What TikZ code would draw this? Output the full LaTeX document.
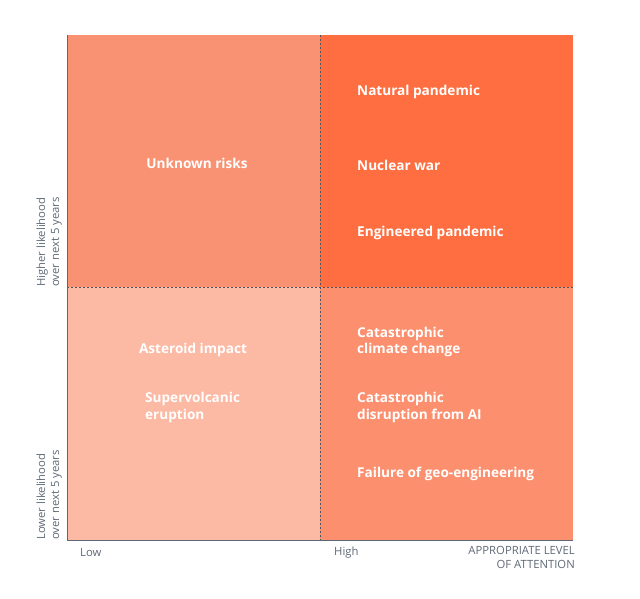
\documentclass[tikz,border=0pt]{standalone}
\usepackage{fontspec}
\setmainfont{Open Sans}
\usepackage{tikz}
\usetikzlibrary{positioning}
\definecolor{quadlow}{RGB}{252,185,163}
\definecolor{quadmid}{RGB}{249,146,114}
\definecolor{quadmidb}{RGB}{251,143,110}
\definecolor{quadhigh}{RGB}{254,110,64}
\definecolor{axisgray}{RGB}{95,105,118}

\begin{document}
\begin{tikzpicture}[x=1pt, y=-1pt,
			risk/.style={text=white, font=\fontsize{13.6}{16.5}\selectfont\bfseries,
				align=left, anchor=west, inner sep=0pt},
			riskc/.style={risk, anchor=center, align=center},
			tick/.style={text=axisgray, font=\fontsize{11.3}{14}\selectfont, inner sep=0pt},
			ylab/.style={tick, rotate=90, align=left, anchor=south west},
			divider/.style={axisgray!80!black, dash pattern=on 1.6pt off 2.4pt, line width=0.7pt}
		]
			\useasboundingbox (0,0) rectangle (640,598);
			% quadrants
			\fill[quadmid]  (67,35)  rectangle (320,287);
			\fill[quadhigh] (320,35) rectangle (573,287);
			\fill[quadlow]  (67,287) rectangle (320,540);
			\fill[quadmidb] (320,287) rectangle (573,540);
			\draw[divider] (67,287) -- (573,287);
			\draw[divider] (320,35) -- (320,540);
			\draw[axisgray, line width=0.9pt] (67,35) -- (67,540) -- (573,540);
			% risks
			\node[riskc] (unknown) at (197,163) {Unknown risks};
			\node[risk] (natural) at (357,92) {Natural pandemic};
			\node[risk] (nuclear) at (357,165) {Nuclear war};
			\node[risk] (engineered) at (357,233) {Engineered pandemic};
			\node[riskc] (asteroid) at (193,350) {Asteroid impact};
			\node[risk] (volcano) at (145,407.5) {Supervolcanic\\eruption};
			\node[risk] (climate) at (357,342) {Catastrophic\\climate change};
			\node[risk] (ai) at (357,407.5) {Catastrophic\\disruption from AI};
			\node[risk] (geo) at (357,474) {Failure of geo-engineering};
			% axes
			\node[tick, anchor=west] (low) at (80,553) {Low};
			\node[tick, anchor=west] (high) at (334,553) {High};
			\node[tick, anchor=north east, align=right] (level) at (575,546) {APPROPRIATE LEVEL\\OF ATTENTION};
			\node[ylab] (higher) at (62,287) {Higher likelihood\\over next 5 years};
			\node[ylab] (lower) at (62,540) {Lower likelihood\\over next 5 years};
		\end{tikzpicture}
\end{document}
